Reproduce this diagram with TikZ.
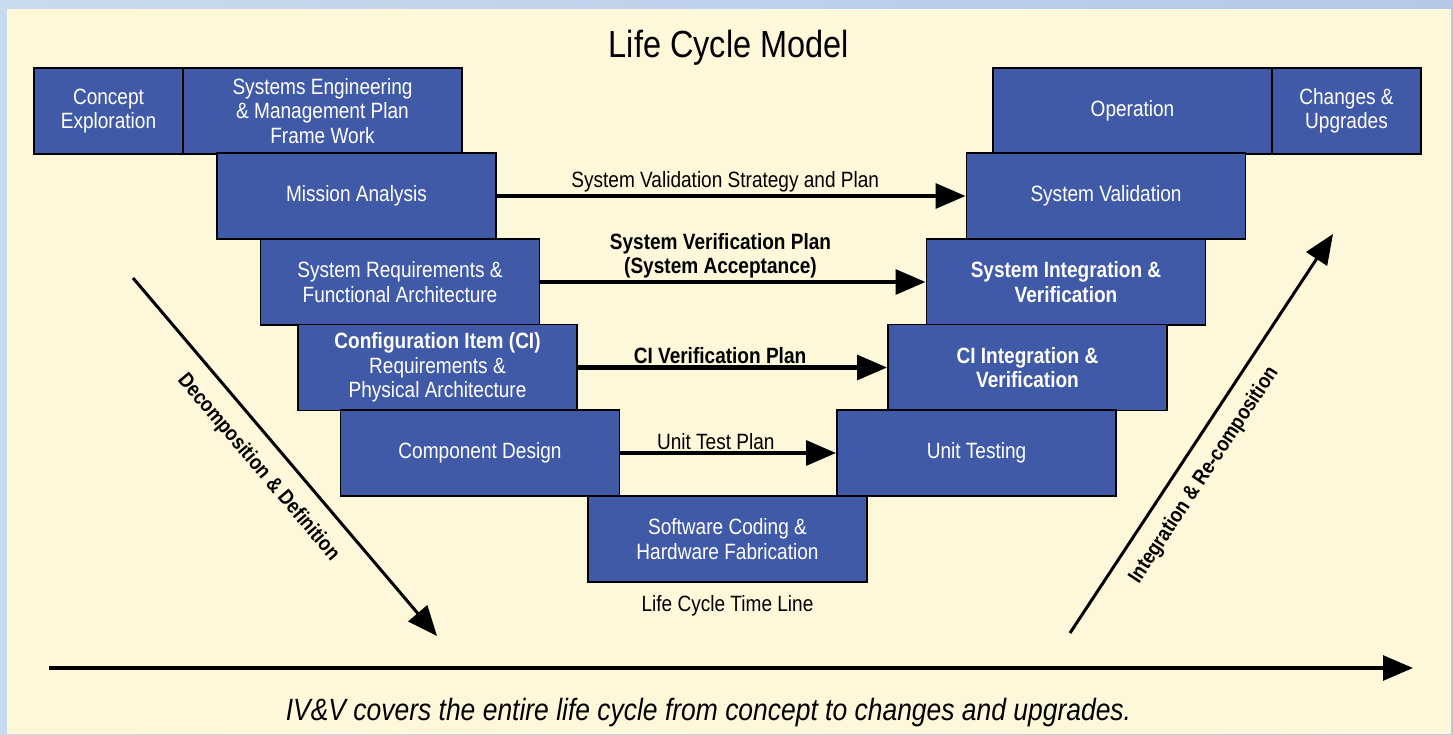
\documentclass[tikz,border=0pt]{standalone}
\usepackage{fontspec}
\setmainfont{Liberation Sans}[FakeStretch=0.86]
\usepackage{xcolor}
\usetikzlibrary{arrows.meta,positioning}
\definecolor{boxblue}{RGB}{64,90,168}
\definecolor{cream}{RGB}{253,248,218}
\definecolor{skyA}{RGB}{200,218,238}
\definecolor{skyB}{RGB}{178,202,232}

\begin{document}
\begin{tikzpicture}
	\tikzstyle{every node}=[font=\fontsize{12.6}{13.9}\selectfont]
	\tikzstyle{phase}=[draw=black, line width=1.1pt, fill=boxblue, text=white, align=center, minimum width=5.58cm, minimum height=1.72cm, inner sep=0pt]
	\tikzstyle{endphase}=[phase, minimum width=2.98cm]
	\tikzstyle{plan}=[-{Triangle[length=17pt,width=14pt]}, line width=2.3pt]
	\tikzstyle{planlabel}=[above=0pt, inner sep=1pt, xshift=-0.25cm, align=center, text=black]
	\useasboundingbox (0,0) rectangle (29.06,14.68);
	\shade[left color=skyA, right color=skyB] (0,0) rectangle (29.06,14.68);
	\fill[cream] (0.14,0) rectangle (29.02,14.5);
	% title
	\node (title) [font=\fontsize{21.5}{25}\selectfont] at (14.58,13.72) {Life Cycle Model};
	% left leg of the V
	\node (concept) [endphase] at (2.17,12.46) {Concept\\Exploration};
	\node (semp) [phase] at (6.45,12.46) {Systems Engineering\\\& Management Plan\\Frame Work};
	\node (mission) [phase] at (7.13,10.76) {Mission Analysis};
	\node (sysreq) [phase] at (8.00,9.04) {System Requirements \&\\Functional Architecture};
	\node (cireq) [phase] at (8.75,7.33) {\textbf{Configuration Item (CI)}\\Requirements \&\\Physical Architecture};
	\node (compdes) [phase] at (9.60,5.62) {Component Design};
	\node (coding) [phase] at (14.55,3.90) {Software Coding \&\\Hardware Fabrication};
	\node (timeline) [below=0.12cm of coding] {Life Cycle Time Line};
	% right leg of the V
	\node (operation) [phase] at (22.65,12.46) {Operation};
	\node (upgrades) [endphase] at (26.93,12.46) {Changes \&\\Upgrades};
	\node (sysval) [phase] at (22.12,10.76) {System Validation};
	\node (sysint) [phase, font=\fontsize{12.6}{13.9}\selectfont\bfseries] at (21.32,9.04) {System Integration \&\\Verification};
	\node (ciint) [phase, font=\fontsize{12.6}{13.9}\selectfont\bfseries] at (20.55,7.33) {CI Integration \&\\Verification};
	\node (unittest) [phase] at (19.53,5.62) {Unit Testing};
	% plans across the V
	\draw [plan] (mission) -- node [planlabel, xshift=0.13cm] {System Validation Strategy and Plan} (sysval);
	\draw [plan] (sysreq) -- node [planlabel, font=\fontsize{12.6}{13.9}\selectfont\bfseries] {System Verification Plan\\(System Acceptance)} (sysint);
	\draw [plan] (cireq) -- node [planlabel, font=\fontsize{12.6}{13.9}\selectfont\bfseries] {CI Verification Plan} (ciint);
	\draw [plan] (compdes) -- node [planlabel] {Unit Test Plan} (unittest);
	% diagonal arrows
	\coordinate (decompA) at (2.66,9.12);
	\coordinate (decompB) at (8.74,1.96);
	\coordinate (integA) at (21.40,2.02);
	\coordinate (integB) at (26.66,10.0);
	\draw [plan, line width=1.7pt] (decompA) -- node [pos=0.48, sloped, below=0.2cm, font=\fontsize{12}{13.9}\selectfont\bfseries] {Decomposition \& Definition} (decompB);
	\draw [plan, line width=1.7pt] (integA) -- node [pos=0.43, sloped, below=0.16cm, font=\fontsize{12}{13.9}\selectfont\bfseries] {Integration \& Re-composition} (integB);
	% time line
	\coordinate (tstart) at (0.98,1.32);
	\coordinate (tend) at (28.26,1.32);
	\draw [plan, line width=2.1pt] (tstart) -- (tend);
	\node (caption) [font=\fontsize{17.5}{21}\selectfont\itshape] at (14.17,0.42) {IV\&V covers the entire life cycle from concept to changes and upgrades.};
\end{tikzpicture}
\end{document}
